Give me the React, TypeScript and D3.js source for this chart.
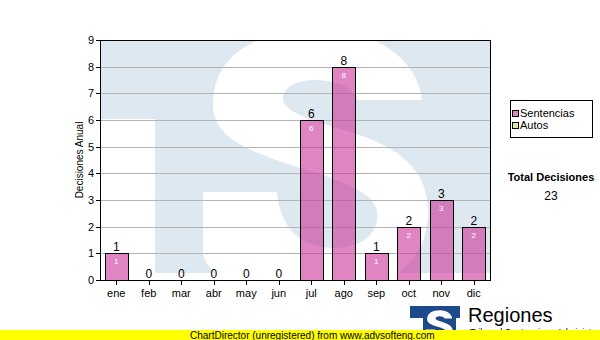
import React from "react";
import * as d3 from "d3";

const months = ["ene", "feb", "mar", "abr", "may", "jun", "jul", "ago", "sep", "oct", "nov", "dic"];
const sentencias = [1, 0, 0, 0, 0, 0, 6, 8, 1, 2, 3, 2];
const yTicks = [0, 1, 2, 3, 4, 5, 6, 7, 8, 9];
const legendItems = ["Sentencias", "Autos"];
const legendColors = ["rgba(204,51,153,0.6)", "#d5eba0"];
const totalLabel = "Total Decisiones";
const totalValue = 23;

const W = 600;
const H = 340;
const m = { left: 100, right: 490, top: 40, bottom: 280 };
const font = "'Liberation Sans', Arial, sans-serif";
const wmBlue = "#dee8f1";

// watermark "S" outline (decorative background image)
const sPath =
  "M203,192 L277,192 C279,215 290,248 335,248 C365,248 380,230 377,211 " +
  "C374,192 340,180 300,168 C250,152 213,138 213,105 " +
  "C213,55 255,30 320,30 C380,30 418,62 422,100 L358,100 " +
  "C352,86 335,80 315,80 C295,80 283,88 283,98 " +
  "C283,112 310,120 350,132 C400,147 428,170 428,212 " +
  "C428,262 390,294 320,294 C250,294 203,280 203,250 Z";

export default function App() {
  const x = d3.scaleBand<string>().domain(months).range([m.left, m.right]).paddingInner(0.28).paddingOuter(0.14);
  const y = d3.scaleLinear().domain([0, 9]).range([m.bottom, m.top]);

  return (
    <svg width={W} height={H} style={{ position: "absolute", left: 0, top: 0, background: "#fff" }}>
      <defs>
        <clipPath id="plotclip">
          <rect x={m.left} y={m.top} width={m.right - m.left} height={m.bottom - m.top} />
        </clipPath>
        <clipPath id="logoclip">
          <rect x={410} y={306} width={50} height={30} />
        </clipPath>
      </defs>
      <rect x={0} y={0} width={W} height={H} fill="#fff" />
      {/* watermark */}
      <g clipPath="url(#plotclip)">
        <rect x={m.left} y={m.top} width={m.right - m.left} height={m.bottom - m.top} fill="#fff" />
        <rect x={m.left} y={m.top} width={m.right - m.left} height={119 - m.top} fill={wmBlue} />
        <rect x={155} y={119} width={m.right - 155} height={273 - 119} fill={wmBlue} />
        <path d={sPath} fill="#fff" />
      </g>
      {/* gridlines */}
      {yTicks.slice(1, -1).map((t) => (
        <line key={t} x1={m.left} x2={m.right} y1={Math.round(y(t)) + 0.5} y2={Math.round(y(t)) + 0.5} stroke="#b4b4b4" strokeWidth={1} />
      ))}
      {/* bars */}
      {months.map((mo, i) => {
        const v = sentencias[i];
        const bx = x(mo)!;
        return v > 0 ? (
          <rect key={mo} x={Math.round(bx) + 0.5} y={Math.round(y(v)) + 0.5} width={Math.round(x.bandwidth())} height={Math.round(y(0)) - Math.round(y(v))} fill="rgba(204,51,153,0.6)" stroke="#000" strokeWidth={1} />
        ) : null;
      })}
      {/* axes frame */}
      <rect x={m.left + 0.5} y={m.top + 0.5} width={m.right - m.left} height={m.bottom - m.top} fill="none" stroke="#000" strokeWidth={1} />
      {/* y ticks */}
      {yTicks.map((t) => (
        <g key={t}>
          <line x1={96} x2={m.left} y1={Math.round(y(t)) + 0.5} y2={Math.round(y(t)) + 0.5} stroke="#000" />
          <text x={94} y={y(t) + 4} textAnchor="end" fontFamily={font} fontSize={11} fill="#000">
            {t}
          </text>
        </g>
      ))}
      {/* x ticks & labels */}
      {months.map((mo) => {
        const cx = x(mo)! + x.bandwidth() / 2;
        return (
          <g key={mo}>
            <line x1={Math.round(cx) + 0.5} x2={Math.round(cx) + 0.5} y1={m.bottom} y2={m.bottom + 5} stroke="#000" />
            <text x={cx} y={297} textAnchor="middle" fontFamily={font} fontSize={11} fill="#000">
              {mo}
            </text>
          </g>
        );
      })}
      {/* value labels */}
      {months.map((mo, i) => {
        const v = sentencias[i];
        const cx = x(mo)! + x.bandwidth() / 2;
        return (
          <g key={mo}>
            <text x={cx} y={y(v) - 2} textAnchor="middle" fontFamily={font} fontSize={12} fill="#000">
              {v}
            </text>
            {v > 0 && (
              <text x={cx} y={y(v) + 11} textAnchor="middle" fontFamily={font} fontSize={8} fill="#fff">
                {v}
              </text>
            )}
          </g>
        );
      })}
      {/* y title */}
      <text transform={`translate(83,${(m.top + m.bottom) / 2}) rotate(-90)`} textAnchor="middle" fontFamily={font} fontSize={10} fill="#000">
        Decisiones Anual
      </text>
      {/* legend */}
      <rect x={510.5} y={100.5} width={82} height={37} fill="#fff" stroke="#000" />
      {legendItems.map((it, i) => (
        <g key={it}>
          <rect x={512.5} y={110.5 + i * 12} width={6} height={6} fill={legendColors[i]} stroke="#000" />
          <text x={520} y={117 + i * 12} fontFamily={font} fontSize={11} fill="#000">
            {it}
          </text>
        </g>
      ))}
      {/* total */}
      <text x={551} y={181} textAnchor="middle" fontFamily={font} fontSize={11} fontWeight="bold" fill="#000">
        {totalLabel}
      </text>
      <text x={551} y={200} textAnchor="middle" fontFamily={font} fontSize={12} fill="#000">
        {totalValue}
      </text>
      {/* logo */}
      <g clipPath="url(#logoclip)">
        <rect x={410} y={306} width={50} height={30} fill="#1c4a8a" />
        <rect x={410} y={318} width={13} height={20} fill="#fff" />
        <rect x={456} y={318} width={6} height={20} fill="#fff" />
        <g transform="translate(440,326) scale(0.12) translate(-320,-162)">
          <path d={sPath} fill="#fff" />
        </g>
      </g>
      <text x={468} y={322} fontFamily={font} fontSize={20} fill="#000">
        Regiones
      </text>
      <text x={470} y={335} fontFamily={font} fontSize={9} fill="#000">
        Tribunal Contencioso Administrativo
      </text>
      {/* footer */}
      <rect x={0} y={330} width={W} height={10} fill="#ffff00" />
      <text x={190} y={338.5} fontFamily={font} fontSize={10} fill="#000">
        ChartDirector (unregistered) from www.advsofteng.com
      </text>
    </svg>
  );
}
